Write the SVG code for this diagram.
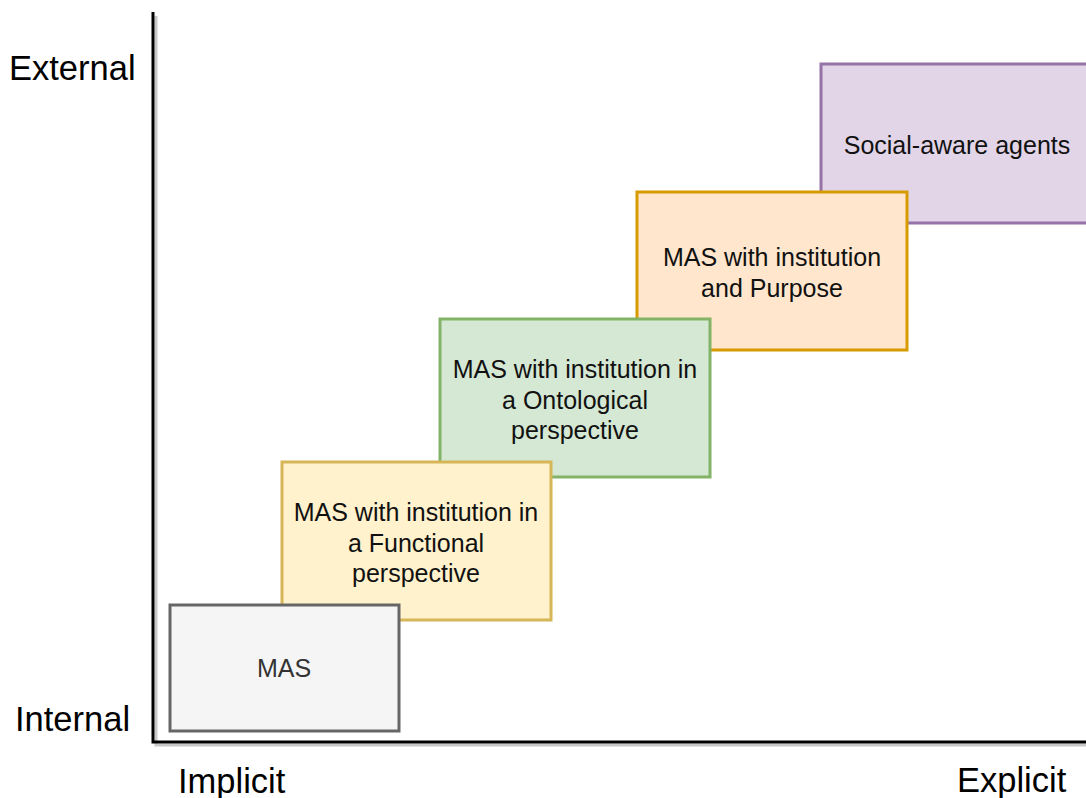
<svg xmlns="http://www.w3.org/2000/svg" width="1086" height="798" viewBox="0 0 1086 798">
  <style>
    .box { stroke-width: 3; }
    .lbl { font-family: "Liberation Sans", Arial, sans-serif; font-size: 25px; fill: #111; text-anchor: middle; }
    .axis-lbl { font-family: "Liberation Sans", Arial, sans-serif; font-size: 34.5px; fill: #000; }
    .axis { stroke: #000; stroke-width: 3; fill: none; }
    .axis-shadow { stroke: #c8c8c8; stroke-width: 3; fill: none; }
  </style>
  <rect width="1086" height="798" fill="#fff"/>

  <!-- axes -->
  <g id="axes">
    <path class="axis-shadow" d="M156,16 V745 H1086"/>
    <path class="axis" d="M153,12 V742 H1086"/>
    <text class="axis-lbl" x="9" y="80">External</text>
    <text class="axis-lbl" x="15" y="731">Internal</text>
    <text class="axis-lbl" x="178" y="793">Implicit</text>
    <text class="axis-lbl" x="957" y="792">Explicit</text>
  </g>

  <g id="social-aware">
    <rect class="box" x="821" y="64" width="270" height="159" fill="#e1d5e7" stroke="#9673a6"/>
    <text class="lbl" x="957" y="154">Social-aware agents</text>
  </g>

  <g id="purpose">
    <rect class="box" x="637" y="192" width="270" height="158" fill="#ffe6cc" stroke="#d79b00"/>
    <text class="lbl" x="772" y="266">MAS with institution</text>
    <text class="lbl" x="772" y="297">and Purpose</text>
  </g>

  <g id="ontological">
    <rect class="box" x="440" y="319" width="270" height="158" fill="#d5e8d4" stroke="#82b366"/>
    <text class="lbl" x="575" y="378">MAS with institution in</text>
    <text class="lbl" x="575" y="409">a Ontological</text>
    <text class="lbl" x="575" y="439">perspective</text>
  </g>

  <g id="functional">
    <rect class="box" x="282" y="462" width="269" height="158" fill="#fff2cc" stroke="#d6b656"/>
    <text class="lbl" x="416" y="521">MAS with institution in</text>
    <text class="lbl" x="416" y="552">a Functional</text>
    <text class="lbl" x="416" y="582">perspective</text>
  </g>

  <g id="mas">
    <rect class="box" x="170" y="605" width="229" height="126" fill="#f5f5f5" stroke="#666666"/>
    <text class="lbl" x="284" y="677" style="fill:#333">MAS</text>
  </g>
</svg>
